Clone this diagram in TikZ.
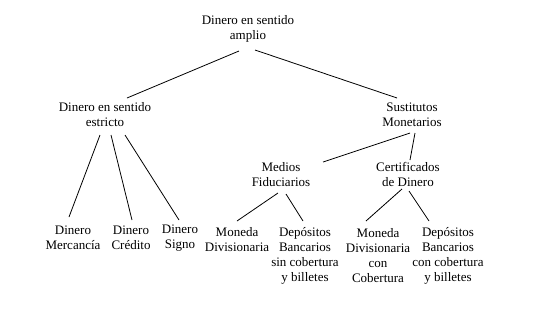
\documentclass[tikz,border=0pt]{standalone}
\usepackage{fontspec}
\setmainfont{Liberation Serif}
\usetikzlibrary{calc}
\begin{document}
\begin{tikzpicture}[x=1pt,y=-1pt,
  lbl/.style={align=center,inner sep=0pt,font=\fontsize{13}{15}\selectfont},
  edge/.style={line width=0.8pt}]
\useasboundingbox (0,0) rectangle (539,333);
\node[lbl] (root) at (248,29) {Dinero en sentido\\amplio};
\node[lbl] (est) at (105,115) {Dinero en sentido\\estricto};
\node[lbl] (sus) at (412,115) {Sustitutos\\Monetarios};
\node[lbl] (med) at (281,174.5) {Medios\\Fiduciarios};
\node[lbl] (cert) at (408,174.5) {Certificados\\de Dinero};
\node[lbl] (merc) at (73,237.5) {Dinero\\Mercancía};
\node[lbl] (cred) at (131,237.5) {Dinero\\Crédito};
\node[lbl] (signo) at (180,238) {Dinero\\Signo};
\node[lbl] (mon1) at (237,239.5) {Moneda\\Divisionaria};
\node[lbl] (dep1) at (305,255.5) {Depósitos\\Bancarios\\sin cobertura\\y billetes};
\node[lbl] (mon2) at (378,256) {Moneda\\Divisionaria\\con\\Cobertura};
\node[lbl] (dep2) at (448,255.5) {Depósitos\\Bancarios\\con cobertura\\y billetes};
\draw[edge] ($(root)+(-9,22)$) -- ($(est)+(22,-17)$);
\draw[edge] ($(root)+(7,21)$) -- ($(sus)+(-15,-17)$);
\draw[edge] ($(est)+(-5,20)$) -- ($(merc)+(-4,-20.5)$);
\draw[edge] ($(est)+(6,20)$) -- ($(cred)+(1,-17.5)$);
\draw[edge] ($(est)+(20,20)$) -- ($(signo)+(-1,-18)$);
\draw[edge] ($(sus)+(-2,18)$) -- ($(med)+(42,-12.5)$);
\draw[edge] ($(sus)+(3,18)$) -- ($(cert)+(2,-14.5)$);
\draw[edge] ($(med)+(-3,18.5)$) -- ($(mon1)+(0,-18.5)$);
\draw[edge] ($(med)+(5,19.5)$) -- ($(dep1)+(-2,-34.5)$);
\draw[edge] ($(cert)+(-6,14.5)$) -- ($(mon2)+(-12,-35)$);
\draw[edge] ($(cert)+(1,16.5)$) -- ($(dep2)+(-19,-34.5)$);
\end{tikzpicture}
\end{document}
